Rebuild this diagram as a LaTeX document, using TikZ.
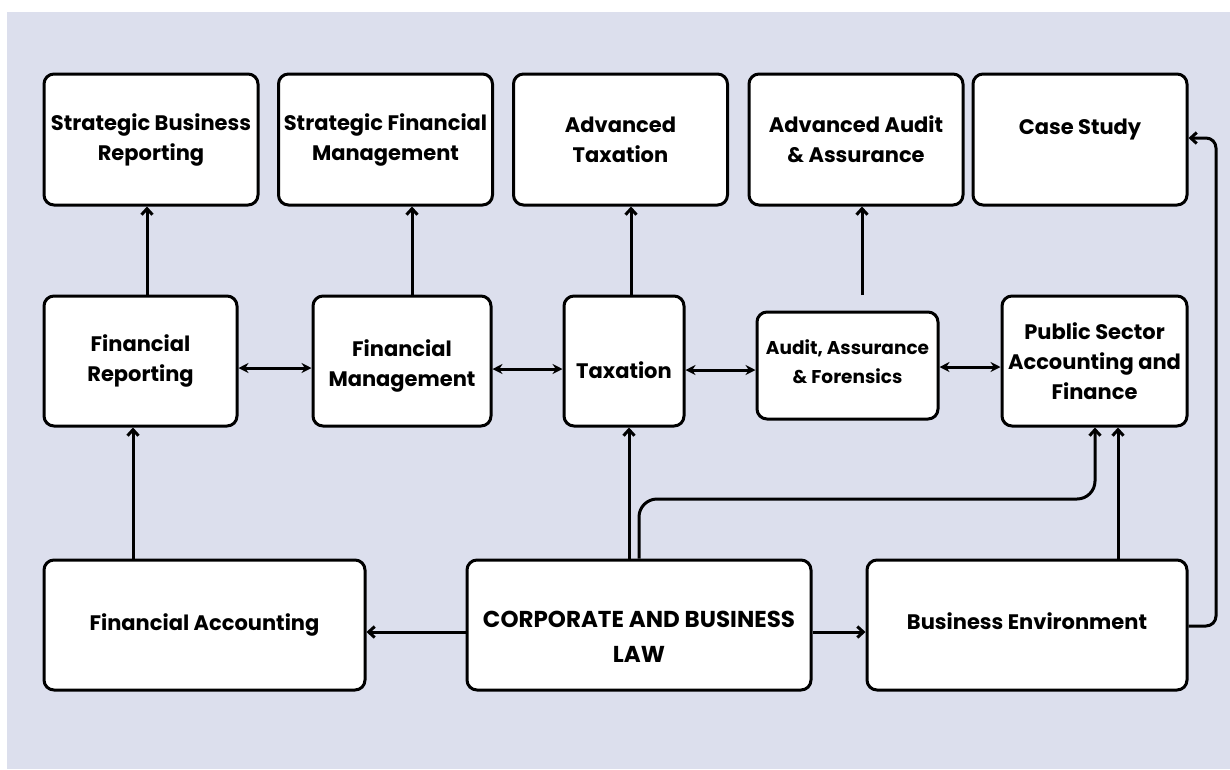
\documentclass[tikz,border=0pt]{standalone}
\usepackage{fontspec}
\setmainfont{Poppins}
\usetikzlibrary{arrows.meta}
\definecolor{lavbg}{RGB}{220,223,237}

\begin{document}
\begin{tikzpicture}[x=1pt, y=-1pt,
    txt/.style={align=center, font=\fontsize{21}{30}\selectfont\bfseries, inner sep=2pt},
    box/.style={txt, draw=black, line width=3pt, fill=white, rounded corners=10pt},
    arr/.style={-{Straight Barb[length=6pt,width=11pt]}, line width=3pt},
    dbl/.style={{Stealth[length=10pt,width=10pt]}-{Stealth[length=10pt,width=10pt]}, line width=3pt}]

% --- Sfondo ---
\useasboundingbox (0,0) rectangle (1230,769);
\fill[white] (0,0) rectangle (1230,769);
\fill[lavbg] (7,12) rectangle (1230,769);

% --- Riga in alto ---
\foreach \n/\x/\t in {sbr/151/{Strategic Business\\Reporting},
                      sfm/385.5/{Strategic Financial\\Management},
                      at/620.5/{Advanced\\Taxation},
                      aaa/856/{Advanced Audit\\\& Assurance},
                      cs/1080/{}} {
    \node[box, minimum width=214, minimum height=131] (\n) at (\x,139.5) {\t};
}
\node[txt] (cs-t) at ([yshift=10pt]cs) {Case Study};

% --- Riga centrale ---
\node[box, minimum width=193, minimum height=130] (fr) at (140.5,361) {Financial\\Reporting};
\node[box, minimum width=178, minimum height=130] (fm) at (402,361) {};
\node[txt] (fm-t) at ([yshift=-5pt]fm) {Financial\\Management};
\node[box, minimum width=120, minimum height=130] (tax) at (624,361) {};
\node[txt] (tax-t) at ([yshift=-9pt]tax) {Taxation};
\node[box, minimum width=181, minimum height=107] (aaf) at (847.5,365.5) {};
\node[txt, font=\fontsize{18.5}{29}\selectfont\bfseries] (aaf-t) at ([yshift=4pt]aaf) {Audit, Assurance\\\& Forensics};
\node[box, minimum width=185, minimum height=130] (psaf) at (1094.5,361) {Public Sector\\Accounting and\\Finance};

% --- Riga in basso ---
\node[box, minimum width=321, minimum height=130] (fa) at (204.5,625) {Financial Accounting};
\node[box, minimum width=344, minimum height=130] (cbl) at (639,625) {};
\node[txt, font=\fontsize{23}{35}\selectfont\bfseries] (cbl-t) at ([yshift=-12pt]cbl) {CORPORATE AND BUSINESS\\LAW};
\node[box, minimum width=320, minimum height=130] (be) at (1027,625) {};
\node[txt] (be-t) at ([yshift=4pt]be) {Business Environment};

% Frecce verso l'alto
\draw[arr] (fr.north -| 147,0) -- (sbr.south -| 147,0);
\draw[arr] (fm.north -| 412,0) -- (sfm.south -| 412,0);
\draw[arr] (tax.north -| 631,0) -- (at.south -| 631,0);
\coordinate (aafup) at (862,295);
\draw[arr] (aafup) -- (aaa.south -| aafup);
\draw[arr] (fa.north -| 133,0) -- (fr.south -| 133,0);
\draw[arr] (cbl.north -| 629,0) -- (tax.south -| 629,0);
\draw[arr] (be.north -| 1118,0) -- (psaf.south -| 1118,0);

% Frecce doppie
\draw[dbl] (fr.east |- 0,368) -- (fm.west |- 0,368);
\draw[dbl] (fm.east |- 0,369) -- (tax.west |- 0,369);
\draw[dbl] (tax.east |- 0,370) -- (aaf.west |- 0,370);
\draw[dbl] (aaf.east |- 0,367) -- (psaf.west |- 0,367);

% Frecce orizzontali in basso
\draw[arr] (cbl.west |- 0,632) -- (fa.east |- 0,632);
\draw[arr] (cbl.east |- 0,632) -- (be.west |- 0,632);

% Percorsi curvi
\draw[arr, rounded corners=18pt] (cbl.north -| 639,0) |- (1095,499) -- (psaf.south -| 1095,0);
\draw[arr, rounded corners=10pt] (be.east |- 0,626) -- (1216,626) -- (1216,138) -- (cs.east |- 0,138);

\end{tikzpicture}
\end{document}
